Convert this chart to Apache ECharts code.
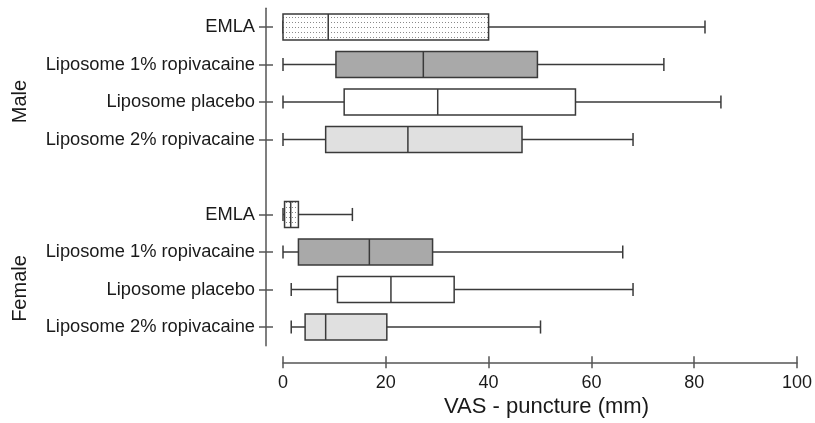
<!DOCTYPE html>
<html>
<head>
<meta charset="utf-8">
<script src="https://cdn.jsdelivr.net/npm/echarts@6/dist/echarts.min.js"></script>
<style>
html, body { margin: 0; padding: 0; background: #fff; }
#chart { width: 815px; height: 423px; }
</style>
</head>
<body>
<div id="chart"></div>
<script>
// rows top to bottom, the empty entry is the gap between the two groups
var categories = ['EMLA', 'Liposome 1% ropivacaine', 'Liposome placebo', 'Liposome 2% ropivacaine', '',
                  'EMLA', 'Liposome 1% ropivacaine', 'Liposome placebo', 'Liposome 2% ropivacaine'];
var lowWhisker  = [0,    0,    0,    0,    null, 0,   0,    1.6,  1.6];
var q1          = [0,    10.3, 11.9, 8.3,  null, 0.3, 3.0,  10.6, 4.3];
var median      = [8.8,  27.3, 30.1, 24.3, null, 1.5, 16.8, 21.0, 8.3];
var q3          = [40,   49.5, 56.9, 46.5, null, 3.0, 29.1, 33.3, 20.2];
var highWhisker = [82.1, 74.1, 85.2, 68.1, null, 13.5, 66.1, 68.1, 50.1];
var fillKind    = [0,    1,    2,    3,    null, 0,   1,    2,    3];
var groups = ['Male', 'Female'];

// dotted fill for EMLA
var dots = document.createElement('canvas');
dots.width = 3;
dots.height = 5;
var dctx = dots.getContext('2d');
dctx.fillStyle = '#fff';
dctx.fillRect(0, 0, 3, 5);
dctx.fillStyle = '#8a8a8a';
dctx.fillRect(1, 2, 1, 1);

var fillStyles = [
    {image: dots, repeat: 'repeat'},
    '#a9a9a9',
    '#ffffff',
    '#e0e0e0'
];

var rows = [];
for (var i = 0; i < categories.length; i++) {
    if (categories[i] === '') continue;
    rows.push([i, lowWhisker[i], q1[i], median[i], q3[i], highWhisker[i], fillKind[i]]);
}

var chart = echarts.init(document.getElementById('chart'), null, {renderer: 'canvas'});

var font = 'Liberation Sans, Arial, sans-serif';
var ink = '#3a3a3a';
var txt = '#1a1a1a';

function renderBox(params, api) {
    var row = api.value(0);
    var lo = api.coord([api.value(1), row]);
    var a = api.coord([api.value(2), row]);
    var m = api.coord([api.value(3), row]);
    var b = api.coord([api.value(4), row]);
    var hi = api.coord([api.value(5), row]);
    var band = api.size([0, 1])[1];
    var bh = band * 0.69;
    var ch = band * 0.35;
    var yc = m[1];
    var ls = {stroke: ink, lineWidth: 1.5};
    return {
        type: 'group',
        children: [
            {type: 'line', shape: {x1: lo[0], y1: yc, x2: a[0], y2: yc}, style: ls},
            {type: 'line', shape: {x1: lo[0], y1: yc - ch / 2, x2: lo[0], y2: yc + ch / 2}, style: ls},
            {type: 'line', shape: {x1: b[0], y1: yc, x2: hi[0], y2: yc}, style: ls},
            {type: 'line', shape: {x1: hi[0], y1: yc - ch / 2, x2: hi[0], y2: yc + ch / 2}, style: ls},
            {type: 'rect', shape: {x: a[0], y: yc - bh / 2, width: b[0] - a[0], height: bh},
             style: {fill: fillStyles[api.value(6)], stroke: ink, lineWidth: 1.5}},
            {type: 'line', shape: {x1: m[0], y1: yc - bh / 2, x2: m[0], y2: yc + bh / 2}, style: ls}
        ]
    };
}

var tickShown = function (idx, val) { return val !== ''; };

var option = {
    animation: false,
    textStyle: {fontFamily: font},
    grid: {left: 283, right: 18, top: 8.25, bottom: 77.25, containLabel: false, outerBoundsMode: 'none'},
    xAxis: [{
        type: 'value', min: 0, max: 100, interval: 20, position: 'bottom', offset: 16.5,
        axisLine: {show: true, onZero: false, lineStyle: {color: '#555', width: 1.5}},
        axisTick: {show: true, length: 6, lineStyle: {color: '#555', width: 1.5}},
        axisLabel: {fontSize: 18, color: txt, margin: 12, fontFamily: font},
        splitLine: {show: false},
        name: 'VAS - puncture (mm)', nameLocation: 'middle', nameGap: 34, nameMoveOverlap: false,
        nameTextStyle: {fontSize: 22, color: txt, fontFamily: font, padding: [0, 0, 0, 13]}
    }, {
        type: 'value', min: 0, max: 100, interval: 20, position: 'bottom', offset: 16.5,
        axisLine: {show: false, onZero: false},
        axisTick: {show: true, inside: true, length: 6, lineStyle: {color: '#555', width: 1.5}},
        axisLabel: {show: false},
        splitLine: {show: false}
    }],
    yAxis: [{
        type: 'category', data: categories, inverse: true, offset: 17, position: 'left',
        axisLine: {show: true, onZero: false, lineStyle: {color: '#555', width: 1.5}},
        axisTick: {show: true, alignWithLabel: true, length: 7, interval: tickShown,
                   lineStyle: {color: '#555', width: 1.5}},
        axisLabel: {fontSize: 18.3, color: txt, margin: 11, interval: 0, fontFamily: font}
    }, {
        type: 'category', data: categories, inverse: true, offset: 17, position: 'left',
        axisLine: {show: false, onZero: false},
        axisTick: {show: true, inside: true, alignWithLabel: true, length: 7, interval: tickShown,
                   lineStyle: {color: '#555', width: 1.5}},
        axisLabel: {show: false}
    }],
    graphic: [
        {type: 'text', x: 20.5, y: 101.5, rotation: Math.PI / 2,
         style: {text: groups[0], font: '20px ' + font, fill: txt, align: 'center', verticalAlign: 'middle'}},
        {type: 'text', x: 20.5, y: 288.5, rotation: Math.PI / 2,
         style: {text: groups[1], font: '20px ' + font, fill: txt, align: 'center', verticalAlign: 'middle'}}
    ],
    series: [{
        type: 'custom',
        xAxisIndex: 0,
        yAxisIndex: 0,
        renderItem: renderBox,
        encode: {x: [1, 2, 3, 4, 5], y: 0},
        data: rows
    }]
};

chart.setOption(option);
</script>
</body>
</html>
